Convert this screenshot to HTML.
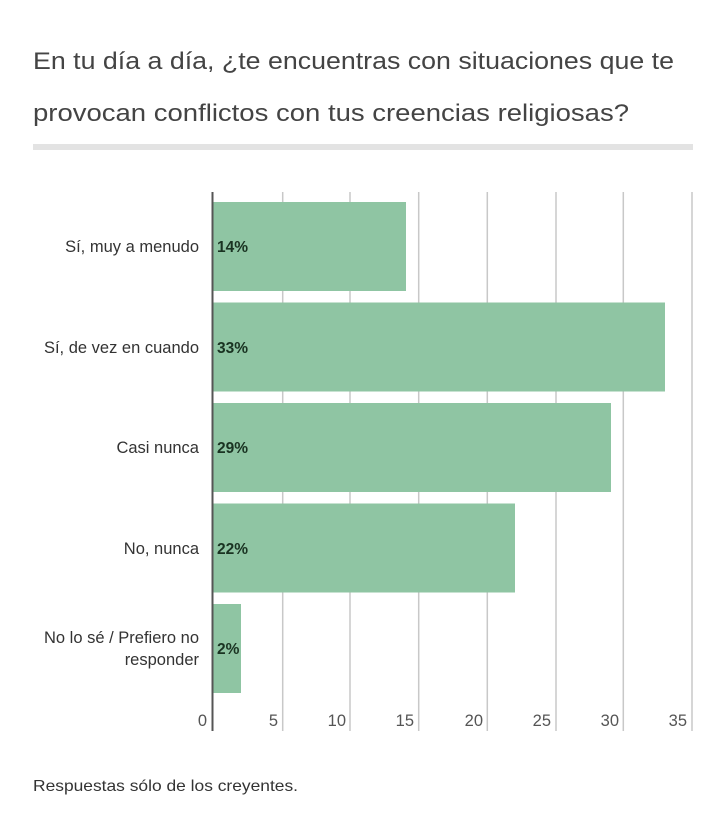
<!DOCTYPE html>
<html><head><meta charset="utf-8"><style>
html,body{margin:0;padding:0;background:#fff;}
svg{display:block;font-family:"Liberation Sans",sans-serif;}
</style></head><body>
<svg width="720" height="815" viewBox="0 0 720 815" xmlns="http://www.w3.org/2000/svg">
<text x="33" y="69" font-size="24" fill="#444" textLength="641" lengthAdjust="spacingAndGlyphs">En tu día a día, ¿te encuentras con situaciones que te</text>
<text x="33" y="121" font-size="24" fill="#444" textLength="596" lengthAdjust="spacingAndGlyphs">provocan conflictos con tus creencias religiosas?</text>
<rect x="33" y="144" width="660" height="6" fill="#e3e3e3"/>
<g stroke="#c8c8c8" stroke-width="1.5">
<line x1="282.7" y1="192" x2="282.7" y2="731"/>
<line x1="350" y1="192" x2="350" y2="731"/>
<line x1="418.7" y1="192" x2="418.7" y2="731"/>
<line x1="487.3" y1="192" x2="487.3" y2="731"/>
<line x1="556" y1="192" x2="556" y2="731"/>
<line x1="623.3" y1="192" x2="623.3" y2="731"/>
<line x1="692" y1="192" x2="692" y2="731"/>
</g>
<g fill="#8fc5a3">
<rect x="213" y="202" width="193" height="89"/>
<rect x="213" y="302.5" width="452" height="89"/>
<rect x="213" y="403" width="398" height="89"/>
<rect x="213" y="503.5" width="302" height="89"/>
<rect x="213" y="604" width="28" height="89"/>
</g>
<line x1="212.5" y1="192" x2="212.5" y2="731" stroke="#555" stroke-width="2"/>
<g font-size="15.5" font-weight="bold" fill="#1a3322">
<text x="217" y="252">14%</text>
<text x="217" y="353">33%</text>
<text x="217" y="453">29%</text>
<text x="217" y="554">22%</text>
<text x="217" y="654">2%</text>
</g>
<g font-size="16.5" fill="#333" text-anchor="end">
<text x="199" y="252">Sí, muy a menudo</text>
<text x="199" y="353">Sí, de vez en cuando</text>
<text x="199" y="453">Casi nunca</text>
<text x="199" y="554">No, nunca</text>
<text x="199" y="643">No lo sé / Prefiero no</text>
<text x="199" y="665">responder</text>
</g>
<g font-size="16.5" fill="#555" text-anchor="end">
<text x="207" y="726">0</text>
<text x="278" y="726">5</text>
<text x="346" y="726">10</text>
<text x="414" y="726">15</text>
<text x="483" y="726">20</text>
<text x="551" y="726">25</text>
<text x="619" y="726">30</text>
<text x="687" y="726">35</text>
</g>
<text x="33" y="791" font-size="16" fill="#333" textLength="265" lengthAdjust="spacingAndGlyphs">Respuestas sólo de los creyentes.</text>
</svg>
</body></html>
